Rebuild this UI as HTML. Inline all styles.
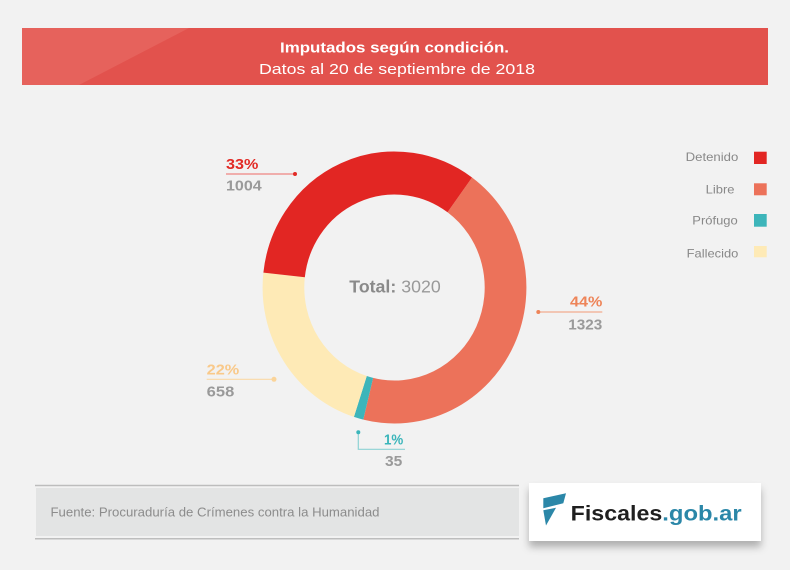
<!DOCTYPE html>
<html>
<head>
<meta charset="utf-8">
<style>
  html,body{margin:0;padding:0;background:#f2f2f2;}
  body{width:790px;height:570px;overflow:hidden;}
  svg{display:block;}
  text{font-family:"Liberation Sans", sans-serif;}
</style>
</head>
<body>
<svg width="790" height="570" viewBox="0 0 790 570" xmlns="http://www.w3.org/2000/svg">
  <defs>
    <filter id="sh" x="-10%" y="-30%" width="120%" height="180%">
      <feDropShadow dx="0" dy="6" stdDeviation="4" flood-color="#000" flood-opacity="0.28"/>
    </filter>
  </defs>
  <rect x="0" y="0" width="790" height="570" fill="#f2f2f2"/>

  <!-- Header -->
  <rect x="22" y="28" width="746" height="57" fill="#e2524d"/>
  <polygon points="22,28 189,28 79,85 22,85" fill="#e6625c"/>
  <text x="394.5" y="52.5" text-anchor="middle" font-size="15" font-weight="bold" fill="#ffffff" textLength="229" lengthAdjust="spacingAndGlyphs">Imputados según condición.</text>
  <text x="397" y="74" text-anchor="middle" font-size="15" fill="#ffffff" textLength="276" lengthAdjust="spacingAndGlyphs">Datos al 20 de septiembre de 2018</text>

  <!-- Donut -->
  <g transform="translate(394.5,287.5) scale(0.97,1)" fill="none" stroke-width="43">
    <path d="M67.30,-92.63 A114.5,114.5 0 0 1 -27.12,111.24" stroke="#ec725a"/>
    <path d="M-27.12,111.24 A114.5,114.5 0 0 1 -35.20,108.95" stroke="#3db5ba"/>
    <path d="M-35.20,108.95 A114.5,114.5 0 0 1 -113.81,-12.56" stroke="#feeab6"/>
    <path d="M-113.81,-12.56 A114.5,114.5 0 0 1 67.30,-92.63" stroke="#e22623"/>
  </g>

  <!-- Total -->
  <text x="349.3" y="292.7" font-size="17.5" fill="#8a8a8a" textLength="91.4" lengthAdjust="spacingAndGlyphs"><tspan font-weight="bold">Total:</tspan> <tspan fill="#999999">3020</tspan></text>

  <!-- 33% label -->
  <text x="226" y="169" font-size="15" font-weight="bold" fill="#e22b26" textLength="32.3" lengthAdjust="spacingAndGlyphs">33%</text>
  <line x1="226" y1="174" x2="295" y2="174" stroke="#ee8582" stroke-width="1.2"/>
  <circle cx="295" cy="174" r="2" fill="#e22b26"/>
  <text x="226" y="190.7" font-size="14.5" font-weight="bold" fill="#9a9a9a" textLength="35.7" lengthAdjust="spacingAndGlyphs">1004</text>

  <!-- 44% label -->
  <text x="602.3" y="306.7" text-anchor="end" font-size="15" font-weight="bold" fill="#ee8458" textLength="32.3" lengthAdjust="spacingAndGlyphs">44%</text>
  <line x1="538.3" y1="312" x2="602.3" y2="312" stroke="#f3ab8e" stroke-width="1.2"/>
  <circle cx="538.3" cy="312" r="2" fill="#ee8458"/>
  <text x="602.3" y="329.3" text-anchor="end" font-size="14.5" font-weight="bold" fill="#9a9a9a" textLength="34" lengthAdjust="spacingAndGlyphs">1323</text>

  <!-- 22% label -->
  <text x="206.7" y="374.3" font-size="15" font-weight="bold" fill="#f9c98a" textLength="32.6" lengthAdjust="spacingAndGlyphs">22%</text>
  <line x1="206.7" y1="379.3" x2="274" y2="379.3" stroke="#fad9a6" stroke-width="1.2"/>
  <circle cx="274" cy="379.3" r="2.5" fill="#fad49a"/>
  <text x="206.7" y="396.7" font-size="14.5" font-weight="bold" fill="#9a9a9a" textLength="27.6" lengthAdjust="spacingAndGlyphs">658</text>

  <!-- 1% label -->
  <text x="384" y="444.3" font-size="15" font-weight="bold" fill="#3ab5ba" textLength="19.3" lengthAdjust="spacingAndGlyphs">1%</text>
  <polyline points="358.3,432.3 358.3,449.3 405,449.3" fill="none" stroke="#8ed2d4" stroke-width="1.2"/>
  <circle cx="358.3" cy="432.3" r="2" fill="#3ab5ba"/>
  <text x="385" y="466" font-size="14.5" font-weight="bold" fill="#9a9a9a" textLength="17.3" lengthAdjust="spacingAndGlyphs">35</text>

  <!-- Legend -->
  <text x="738.3" y="161" text-anchor="end" font-size="12" fill="#888888" textLength="52.6" lengthAdjust="spacingAndGlyphs">Detenido</text>
  <rect x="754" y="151.7" width="12.7" height="12.3" fill="#e22623"/>
  <text x="734.5" y="193.3" text-anchor="end" font-size="12" fill="#888888" textLength="28.8" lengthAdjust="spacingAndGlyphs">Libre</text>
  <rect x="754" y="183.3" width="12.7" height="12" fill="#ec725a"/>
  <text x="737.7" y="224.5" text-anchor="end" font-size="12" fill="#888888" textLength="45.4" lengthAdjust="spacingAndGlyphs">Prófugo</text>
  <rect x="754" y="214" width="12.7" height="12.7" fill="#3db5ba"/>
  <text x="738.3" y="257.3" text-anchor="end" font-size="12" fill="#888888" textLength="51.6" lengthAdjust="spacingAndGlyphs">Fallecido</text>
  <rect x="754" y="246" width="12.7" height="11.3" fill="#feeab6"/>

  <!-- Footer source -->
  <rect x="36" y="488" width="483" height="48" fill="#e3e4e4"/>
  <line x1="35" y1="485.5" x2="519" y2="485.5" stroke="#bdbdbd" stroke-width="1.5"/>
  <line x1="35" y1="538.8" x2="519" y2="538.8" stroke="#bdbdbd" stroke-width="1.5"/>
  <text x="50.5" y="516.7" font-size="12.5" fill="#8c8c8c" textLength="329" lengthAdjust="spacingAndGlyphs">Fuente: Procuraduría de Crímenes contra la Humanidad</text>

  <!-- Logo -->
  <rect x="529" y="483" width="232" height="58" fill="#ffffff" filter="url(#sh)"/>
  <polygon points="543.3,498.3 566,493.3 563.3,503.3 543.3,508.3" fill="#2b87a8"/>
  <polygon points="543.3,510.3 556,507.8 546,525.5" fill="#2b87a8"/>
  <text x="570.7" y="520.5" font-size="21.5" font-weight="bold" fill="#1f1f1f" textLength="91.6" lengthAdjust="spacingAndGlyphs">Fiscales</text>
  <text x="662.3" y="520.5" font-size="21.5" font-weight="bold" fill="#2b87a8" textLength="79.4" lengthAdjust="spacingAndGlyphs">.gob.ar</text>
</svg>
</body>
</html>
